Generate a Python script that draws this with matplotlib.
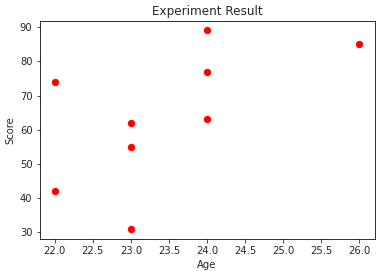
import matplotlib
matplotlib.use('Agg')
import matplotlib.pyplot as plt

# Data
ages = [22, 22, 23, 23, 23, 24, 24, 24, 26]
scores = [74, 42, 62, 55, 31, 89, 77, 63, 85]

plt.rcParams['font.size'] = 10
plt.rcParams['text.color'] = '#262626'
plt.rcParams['xtick.color'] = '#262626'
plt.rcParams['ytick.color'] = '#262626'
plt.rcParams['axes.labelcolor'] = '#262626'

fig = plt.figure(figsize=(383 / 72, 280 / 72), dpi=72)
ax = fig.add_axes([39.5 / 383, 41 / 280, 335 / 383, 218.5 / 280])

ax.scatter(ages, scores, color='red', s=40, zorder=3)
ax.set_title('Experiment Result', fontsize=12)
ax.set_xlabel('Age', fontsize=10)
ax.set_ylabel('Score', fontsize=10)

fig.savefig('out.png', dpi=72)
